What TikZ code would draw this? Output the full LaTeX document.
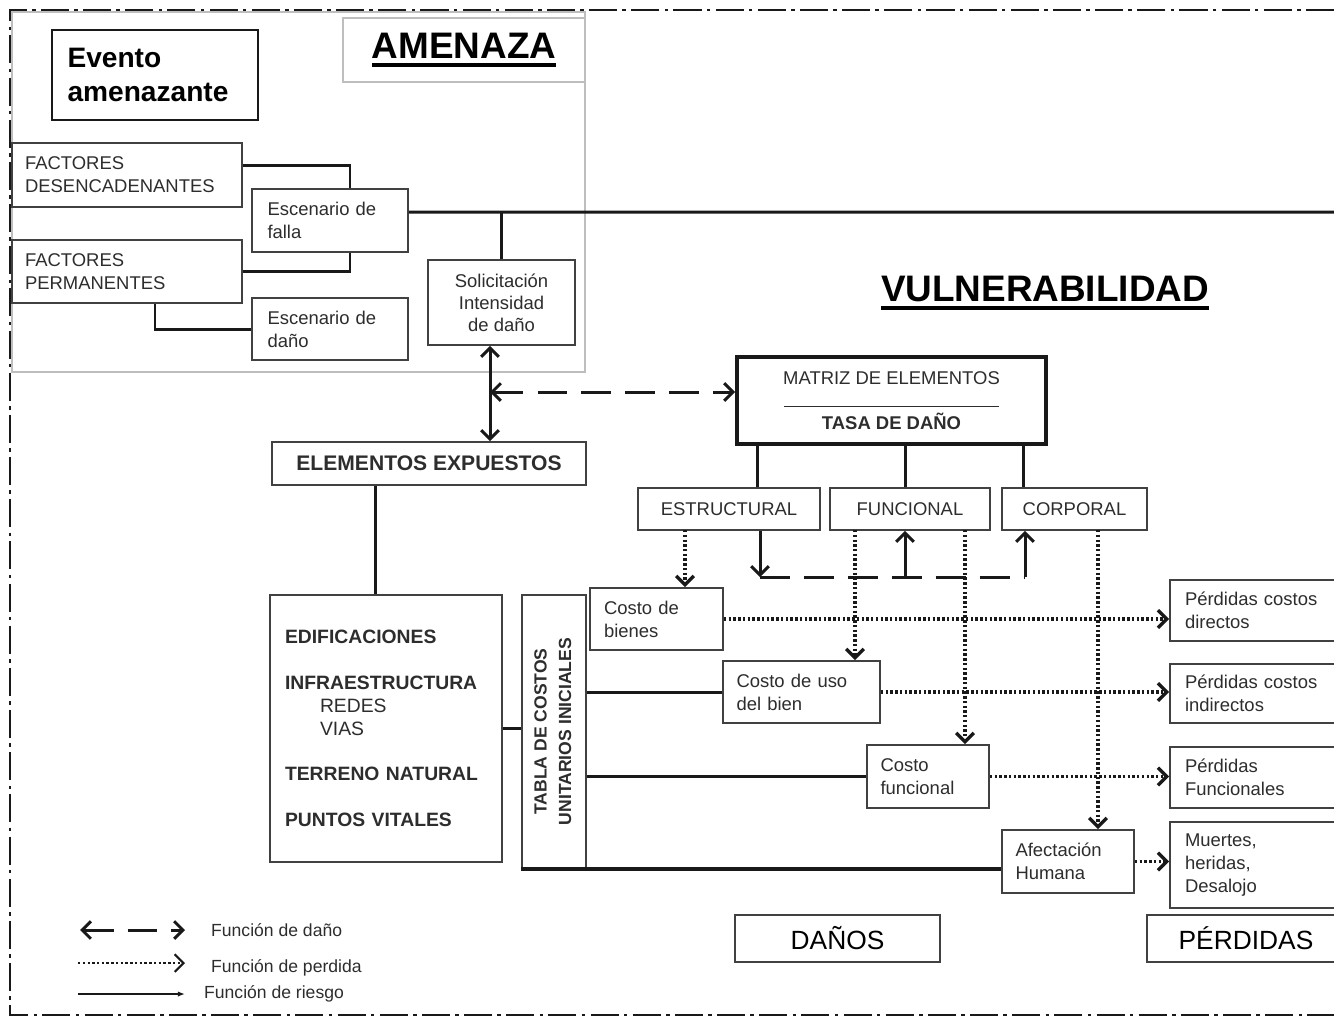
\documentclass[tikz,border=0pt]{standalone}
\usepackage{fontspec}
\setmainfont{Liberation Sans}
\usepackage{graphicx}
\usepackage{tikz}
\usetikzlibrary{arrows.meta, positioning, calc}
\definecolor{cLine}{RGB}{25,25,25}
\definecolor{cFrame}{RGB}{65,65,65}
\definecolor{cZone}{RGB}{190,190,190}
\definecolor{cText}{RGB}{45,45,45}
\newcommand{\subrayar}[1]{\setbox0=\hbox{#1}\rlap{\rule[-4.5pt]{\wd0}{1.8pt}}\box0}
\tikzset{
	box/.style={rectangle, draw=cFrame, line width=1.1pt, fill=white, text=cText, inner sep=0pt, font=\fontsize{10.5}{13}\selectfont},
	lbox/.style={box, align=left},
	cbox/.style={box, align=center},
	riesgo/.style={draw=cLine, line width=1.7pt},
	dano/.style={draw=cLine, line width=1.7pt, dash pattern=on 17pt off 8pt},
	perdida/.style={draw=cLine, line width=1.9pt, dash pattern=on 1.4pt off 1.3pt, ->},
	titulo/.style={font=\fontsize{21}{24}\selectfont\bfseries, text=black},
	% leyenda
	leyenda/.style={anchor=west, font=\fontsize{10}{12}\selectfont, text=cText},
}

\begin{document}
\begin{tikzpicture}[x=0.02cm, y=-0.02cm, >={Straight Barb[length=5pt, width=10pt]}]
\useasboundingbox (0,0) rectangle (1334,1019);
\clip (0,0) rectangle (1334,1019);
% marco y zona de amenaza
\draw[cLine, line width=1.6pt, dash pattern=on 16pt off 3pt on 2pt off 3pt] (1334,10) -- (10,10) -- (10,1015) -- (1334,1015);
\draw[cZone, line width=1pt] (12,12) rectangle (585,372);

% amenaza
\node[lbox, draw=cLine, line width=1.4pt, minimum width=4.12cm, text width=3.5cm, minimum height=1.8cm, font=\fontsize{16}{19}\selectfont\bfseries, text=black] (evento) at (155,75) {Evento\\amenazante};
\node[box, draw=cZone, line width=0.8pt, minimum width=4.84cm, minimum height=1.28cm, titulo] (amenaza) at (464,50) {\subrayar{AMENAZA}};
\node[lbox, minimum width=4.6cm, text width=4.08cm, minimum height=1.28cm] (fdes) at (127,175) {FACTORES\\DESENCADENANTES};
\node[lbox, minimum width=4.6cm, text width=4.08cm, minimum height=1.26cm] (fperm) at (127,271.5) {FACTORES\\PERMANENTES};
\node[lbox, minimum width=3.12cm, text width=2.5cm, minimum height=1.26cm] (esfalla) at (330,220.5) {Escenario de\\falla};
\node[lbox, minimum width=3.12cm, text width=2.5cm, minimum height=1.24cm] (esdano) at (330,329) {Escenario de\\daño};
\node[cbox, minimum width=2.94cm, minimum height=1.7cm, font=\fontsize{10.5}{12.5}\selectfont] (solic) at (501.5,302.5) {Solicitación\\Intensidad\\de daño};

% vulnerabilidad
\node[titulo] (vulner) at (1045,293) {\subrayar{VULNERABILIDAD}};
\node[cbox, minimum width=6.28cm, minimum height=0.86cm, font=\fontsize{12}{14}\selectfont\bfseries] (expuestos) at (429,463.5) {ELEMENTOS EXPUESTOS};
\node[cbox, draw=cLine, line width=2.2pt, minimum width=6.18cm, minimum height=1.74cm] (matriz) at (891.5,400.5) {MATRIZ DE ELEMENTOS\\\rule{4.3cm}{0.6pt}\\\textbf{TASA DE DAÑO}};
\node[cbox, minimum width=3.64cm, minimum height=0.84cm] (estr) at (729,509) {ESTRUCTURAL};
\node[cbox, minimum width=3.2cm, minimum height=0.84cm] (func) at (910,509) {FUNCIONAL};
\node[cbox, minimum width=2.9cm, minimum height=0.84cm] (corp) at (1074.5,509) {CORPORAL};
\node[lbox, minimum width=4.64cm, text width=4.04cm, minimum height=5.34cm, font=\fontsize{11}{13}\selectfont\bfseries] (edif) at (386,728.5) {EDIFICACIONES\\[13pt]INFRAESTRUCTURA\\\hspace*{0.7cm}{\mdseries REDES}\\\hspace*{0.7cm}{\mdseries VIAS}\\[13pt]TERRENO NATURAL\\[13pt]PUNTOS VITALES};
\node[cbox, minimum width=1.28cm, minimum height=5.46cm, font=\fontsize{10}{14}\selectfont\bfseries] (tabla) at (554,731.5) {\rotatebox{90}{\begin{tabular}{@{}c@{}}TABLA DE COSTOS\\UNITARIOS INICIALES\end{tabular}}};

% costos y perdidas
\node[lbox, minimum width=2.66cm, text width=2.1cm, minimum height=1.24cm] (cbienes) at (656.5,619) {Costo de\\bienes};
\node[lbox, minimum width=3.14cm, text width=2.6cm, minimum height=1.24cm] (cuso) at (801.5,692) {Costo de uso\\del bien};
\node[lbox, minimum width=2.44cm, text width=1.9cm, minimum height=1.26cm] (cfunc) at (928,776.5) {Costo\\funcional};
\node[lbox, minimum width=2.64cm, text width=2.1cm, minimum height=1.26cm] (afect) at (1068,861.5) {Afectación\\Humana};
\node[lbox, minimum width=3.5cm, text width=2.9cm, minimum height=1.22cm] (pdir) at (1257.5,610.5) {Pérdidas costos\\directos};
\node[lbox, minimum width=3.5cm, text width=2.9cm, minimum height=1.18cm] (pind) at (1257.5,693.5) {Pérdidas costos\\indirectos};
\node[lbox, minimum width=3.5cm, text width=2.9cm, minimum height=1.22cm] (pfun) at (1257.5,777.5) {Pérdidas\\Funcionales};
\node[lbox, minimum width=3.5cm, text width=2.9cm, minimum height=1.72cm] (pmue) at (1257.5,865) {Muertes,\\heridas,\\Desalojo};
\node[cbox, minimum width=4.1cm, minimum height=0.94cm, font=\fontsize{15}{17}\selectfont, text=black] (danos) at (837.5,938.5) {DAÑOS};
\node[cbox, minimum width=3.96cm, minimum height=0.94cm, font=\fontsize{15}{17}\selectfont, text=black] (perdidas) at (1246,938.5) {PÉRDIDAS};

% funcion de riesgo
\coordinate (riesgofin) at (1345,212);
\draw[riesgo] ([yshift=0.2cm]fdes.east) -| ([xshift=0.4cm]esfalla.north);
\draw[riesgo] (fperm.east) -| ([xshift=0.4cm]esfalla.south);
\draw[riesgo] ([xshift=0.56cm]fperm.south) |- (esdano.west);
\draw[riesgo] ([yshift=0.17cm]esfalla.east) -- (riesgofin);
\draw[riesgo] (solic.north |- riesgofin) -- (solic.north);
\foreach \n/\d in {estr/0.56cm, func/-0.1cm, corp/-1.03cm}
	\draw[riesgo] ([xshift=\d]\n.north |- matriz.south) -- ([xshift=\d]\n.north);
\draw[riesgo] ([xshift=-0.22cm]edif.north |- expuestos.south) -- ([xshift=-0.22cm]edif.north);
\draw[riesgo] (edif.east) -- (edif.east -| tabla.west);
\draw[riesgo] (tabla.east |- cuso.west) -- (cuso.west);
\draw[riesgo] (tabla.east |- cfunc.west) -- (cfunc.west);
\draw[riesgo, line width=2.2pt] (tabla.south west) -- (tabla.south west -| afect.west);

% funcion de dano
\coordinate (danoorg) at (490,392);
\draw[riesgo, ->] (danoorg) -- (danoorg |- solic.south);
\draw[riesgo, ->] (danoorg) -- (danoorg |- expuestos.north);
\draw[dano, <->] (danoorg) -- (danoorg -| matriz.west);
\coordinate (dL) at (760,577);
\coordinate (dF) at (905,577);
\coordinate (dR) at (1025,577);
\draw[dano] (dL) -- (dR);
\draw[riesgo, ->] (dL |- estr.south) -- (dL);
\draw[riesgo, ->] (dF) -- (dF |- func.south);
\draw[riesgo, ->] (dR) -- (dR |- corp.south);

% funcion de perdida
\coordinate (p1) at (685,530);
\coordinate (p2) at (855,530);
\coordinate (p3) at (965,530);
\coordinate (p4) at (1098,530);
\draw[perdida] (p1) -- (p1 |- cbienes.north);
\draw[perdida] (p2) -- (p2 |- cuso.north);
\draw[perdida] (p3) -- (p3 |- cfunc.north);
\draw[perdida] (p4) -- (p4 |- afect.north);
\draw[perdida] (cbienes.east) -- (cbienes.east -| pdir.west);
\draw[perdida] (cuso.east) -- (cuso.east -| pind.west);
\draw[perdida] (cfunc.east) -- (cfunc.east -| pfun.west);
\draw[perdida] (afect.east) -- (afect.east -| pmue.west);

% leyenda
\node[leyenda] (ldano) at (205,930) {Función de daño};
\node[leyenda] (lperdida) at (205,968) {Función de perdida};
\node[leyenda] (lriesgo) at (198,994) {Función de riesgo};
\draw[dano, <->] ([xshift=-2.5cm]ldano.west) -- ([xshift=-0.4cm]ldano.west);
\draw[perdida, line width=1.2pt] ([xshift=-2.54cm, yshift=0.1cm]lperdida.west) -- ([xshift=-0.4cm, yshift=0.1cm]lperdida.west);
\draw[riesgo, line width=1.2pt, -{Latex[length=4pt, width=3pt]}] ([xshift=-2.4cm]lriesgo.west) -- ([xshift=-0.26cm]lriesgo.west);
\end{tikzpicture}
\end{document}
